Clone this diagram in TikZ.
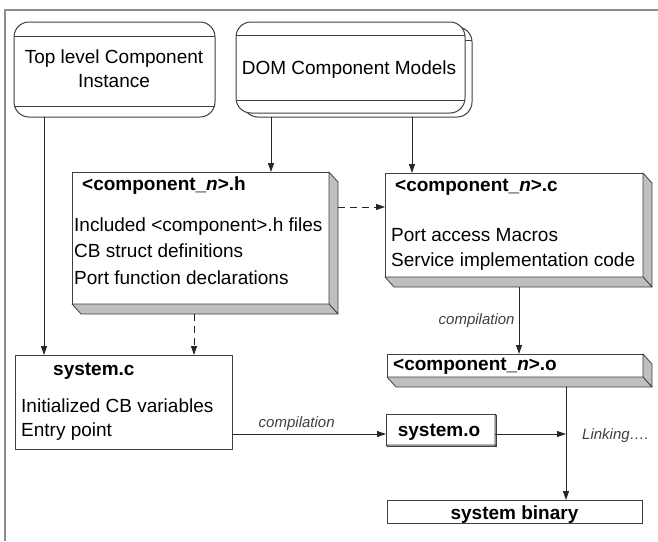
\documentclass[tikz,border=0pt]{standalone}
\usepackage{fontspec}
\setmainfont{Liberation Sans}
\usetikzlibrary{arrows.meta,calc}
\newcommand{\extrudebox}[3]{%
  \filldraw[face] (#1.north east) -- ++(#2,#3) -- ($(#1.south east)+(#2,#3)$) -- (#1.south east) -- cycle;
  \filldraw[face] (#1.south west) -- (#1.south east) -- ($(#1.south east)+(#2,#3)$) -- ($(#1.south west)+(#2,#3)$) -- cycle;}
\begin{document}
\begin{tikzpicture}[x=1pt,y=-1pt,
  conn/.style={draw=black!85, line width=0.9pt, -{Triangle[length=9pt,width=6pt]}},
  dconn/.style={conn, dash pattern=on 7pt off 5pt},
  box/.style={draw=black!75, fill=white, line width=1pt, inner sep=0pt, outer sep=0pt, anchor=north west},
  rbox/.style={box, rounded corners=15pt},
  face/.style={fill=black!25, draw=black!75, line width=0.8pt, line join=round},
  txt/.style={inner sep=0pt, anchor=base west, font=\fontsize{19}{23}\selectfont},
  ctxt/.style={txt, anchor=base},
  btxt/.style={txt, font=\fontsize{19}{23}\selectfont\bfseries},
  bctxt/.style={btxt, anchor=base},
  lbl/.style={inner sep=0pt, font=\fontsize{15}{18}\selectfont\itshape, text=black!75},
]
\useasboundingbox (0,0) rectangle (658,541);
% outer frame
\draw[draw=black!45, line width=1.6pt] (5,541) -- (5,10) -- (658,10);

% top level component instance
\node[rbox, minimum width=201pt, minimum height=95pt] (top) at (14,22) {};
\draw[draw=black!75, line width=0.9pt] (top.west |- 0,36) -- (top.east |- 0,36);
\draw[draw=black!75, line width=0.9pt] (top.west |- 0,106) -- (top.east |- 0,106);
\node[ctxt] (toptxt1) at (114,63) {Top level Component};
\node[ctxt] (toptxt2) at (114,87) {Instance};

% DOM component models (stacked)
\node[rbox, minimum width=229pt, minimum height=90pt] (domb) at (243,27) {};
\draw[draw=black!75, line width=0.9pt] (domb.west |- 0,40) -- (domb.east |- 0,40);
\node[rbox, minimum width=229pt, minimum height=91pt] (dom) at (236,22) {};
\draw[draw=black!75, line width=0.9pt] (dom.west |- 0,35) -- (dom.east |- 0,35);
\draw[draw=black!75, line width=0.9pt] (dom.west |- 0,100) -- (dom.east |- 0,100);
\node[ctxt] (domtxt) at (349,74) {DOM Component Models};

% <component_n>.h
\node[box, minimum width=257pt, minimum height=132pt] (hbox) at (72,172) {};
\extrudebox{hbox}{9}{10}
\node[btxt] (htitle) at (82,190.5) {<component\_\textit{n}>.h};
\node[txt] (hl1) at (74,231.5) {Included <component>.h files};
\node[txt] (hl2) at (74,257.5) {CB struct definitions};
\node[txt] (hl3) at (74,284) {Port function declarations};

% <component_n>.c
\node[box, minimum width=258pt, minimum height=104pt] (cbox) at (385,173) {};
\extrudebox{cbox}{9}{10}
\node[btxt] (ctitle) at (395,191.5) {<component\_\textit{n}>.c};
\node[txt] (cl1) at (391,241.5) {Port access Macros};
\node[txt] (cl2) at (391,266) {Service implementation code};

% <component_n>.o
\node[box, minimum width=256pt, minimum height=23pt] (obox) at (387,354) {};
\extrudebox{obox}{9}{10}
\node[btxt] (otitle) at (393,370) {<component\_\textit{n}>.o};

% system.c
\node[box, minimum width=217pt, minimum height=94pt] (sysc) at (15,355) {};
\node[btxt] (sysctitle) at (53,375) {system.c};
\node[txt] (sysc1) at (21,412.5) {Initialized CB variables};
\node[txt] (sysc2) at (21,436.5) {Entry point};

% system.o
\node[box, minimum width=109pt, minimum height=31pt] (syso) at (386,414) {};
\extrudebox{syso}{1.5}{1.5}
\node[bctxt] (sysotxt) at (439,436.5) {system.o};

% system binary
\node[box, minimum width=255pt, minimum height=23pt] (bin) at (387,500) {};
\node[bctxt] (bintxt) at (514.5,519) {system binary};

% connectors
\draw[conn] (top.south -| 44,0) -- (sysc.north -| 44,0);
\draw[conn] (domb.south -| 271,0) -- (hbox.north -| 271,0);
\draw[conn] (domb.south -| 412,0) -- (cbox.north -| 412,0);
\coordinate (hdash) at ($(hbox.east |- 0,207)+(9,0)$);
\draw[dconn] (hdash) -- (cbox.west |- hdash);
\coordinate (hdown) at ($(hbox.south -| 194,0)+(0,10)$);
\draw[dconn] (hdown) -- (sysc.north -| hdown);
\coordinate (cdown) at ($(cbox.south -| 519,0)+(0,10)$);
\draw[conn] (cdown) -- (obox.north -| cdown) node[lbl, pos=0.5, left=4pt] (comp1) {compilation};
\coordinate (odown) at ($(obox.south -| 566,0)+(0,10)$);
\draw[conn] (odown) -- (bin.north -| odown);
\draw[conn] (sysc.east |- 0,434) -- (syso.west |- 0,434) node[lbl, pos=0.42, above=3pt] (comp2) {compilation};
\coordinate (lk) at (566,434);
\draw[conn] (syso.east |- lk) -- (lk);
\node[lbl, anchor=base west] (linking) at (582,439) {Linking….};
\end{tikzpicture}
\end{document}
